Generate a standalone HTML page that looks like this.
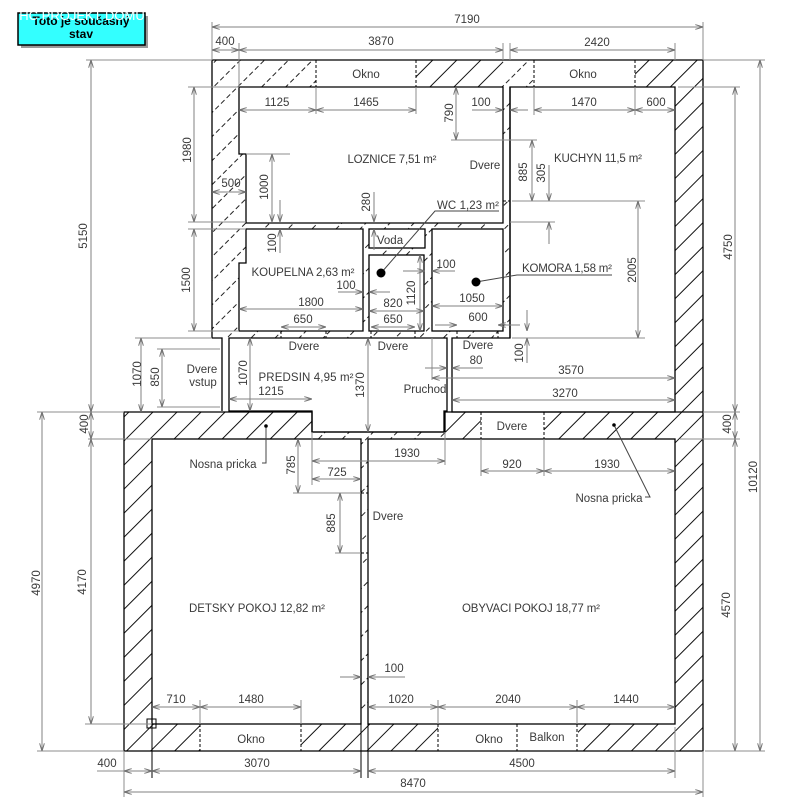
<!DOCTYPE html>
<html><head><meta charset="utf-8"><style>
html,body{margin:0;padding:0;background:#fff;}
svg{display:block;}
text{font-family:"Liberation Sans",Arial,sans-serif;font-size:11.5px;fill:#3a3a3a;}
.t{text-anchor:middle;}
.d line{stroke:#808080;stroke-width:1;marker-start:url(#a);marker-end:url(#a);}
.e line{stroke:#808080;stroke-width:1;marker-end:url(#a);}
.x line{stroke:#8c8c8c;stroke-width:1;}
.k{fill:none;stroke:#000;stroke-width:1.3;}
.r{fill:#fff;stroke:#000;stroke-width:1.3;}
.o line{stroke:#000;stroke-width:1;stroke-dasharray:3 2;}
</style></head><body>
<svg width="798" height="800" viewBox="0 0 798 800" xmlns="http://www.w3.org/2000/svg">
<defs>
<pattern id="hs" patternUnits="userSpaceOnUse" width="17" height="17" patternTransform="rotate(45)">
<line x1="8.5" y1="0" x2="8.5" y2="17" stroke="#111" stroke-width="1"/></pattern>
<pattern id="hd" patternUnits="userSpaceOnUse" width="17" height="16" patternTransform="rotate(45)">
<line x1="8.5" y1="0" x2="8.5" y2="16" stroke="#222" stroke-width="1" stroke-dasharray="5 3"/></pattern>
<marker id="a" viewBox="0 0 8 5" refX="8" refY="2.5" markerWidth="8" markerHeight="5" orient="auto-start-reverse" markerUnits="userSpaceOnUse">
<path d="M0,0 L8,2.5 L0,5" fill="none" stroke="#707070" stroke-width="1"/></marker>
</defs>
<rect width="798" height="800" fill="#fff"/>

<!-- title box -->
<rect x="21" y="16" width="127" height="32" fill="#9a9a9a"/>
<rect x="18" y="13" width="127" height="32" fill="#33ffff" stroke="#000" stroke-width="1.5"/>
<text x="81" y="25" class="t" style="font-weight:bold;font-size:12px;fill:#000">Toto je současný</text>
<text x="81" y="38" class="t" style="font-weight:bold;font-size:12px;fill:#000">stav</text>
<text x="82" y="20" class="t" style="font-size:13px;fill:#fff">HC PROJEKT DOMU</text>

<!-- upper block hatch -->
<rect x="212" y="60" width="491" height="278" fill="url(#hd)"/>
<rect x="416" y="60" width="87" height="27" fill="#fff"/>
<rect x="416" y="60" width="87" height="27" fill="url(#hs)"/>
<rect x="635" y="60" width="68" height="27" fill="#fff"/>
<rect x="635" y="60" width="68" height="27" fill="url(#hs)"/>
<rect x="675" y="60" width="28" height="352" fill="#fff"/>
<rect x="675" y="60" width="28" height="352" fill="url(#hs)"/>
<rect x="316" y="60" width="100" height="27" fill="#fff"/>
<rect x="534" y="60" width="101" height="27" fill="#fff"/>
<rect x="503" y="140" width="7" height="61" fill="#fff"/>

<!-- lower block hatch -->
<polygon points="124,412 312,412 312,432 445,432 445,412 703,412 703,751 124,751" fill="#fff"/>
<polygon points="124,412 312,412 312,432 445,432 445,412 703,412 703,751 124,751" fill="url(#hs)"/>
<rect x="312" y="432" width="133" height="7" fill="#fff"/>
<rect x="312" y="432" width="133" height="7" fill="url(#hd)"/>
<rect x="361" y="439" width="7" height="285" fill="#fff"/>
<rect x="361" y="439" width="7" height="285" fill="url(#hd)"/>
<rect x="481" y="412" width="63" height="27" fill="#fff"/>
<rect x="200" y="724" width="101" height="27" fill="#fff"/>
<rect x="438" y="724" width="140" height="27" fill="#fff"/>

<!-- rooms -->
<polygon class="r" points="239,87 503,87 503,223 246,223 246,154 239,154"/>
<polygon class="r" points="510,87 675,87 675,412 452,412 452,338 510,338"/>
<polygon class="r" points="246,229 363,229 363,331 239,331 239,263 246,263"/>
<rect class="r" x="369" y="229" width="56" height="19"/>
<rect class="r" x="369" y="255" width="55" height="76"/>
<rect class="r" x="432" y="229" width="71" height="102"/>
<polygon class="r" points="229,338 447,338 447,411 444,411 444,432 312,432 312,411 229,411"/>
<rect class="r" x="152" y="439" width="209" height="285"/>
<rect class="r" x="368" y="439" width="307" height="285"/>
<rect x="223" y="339" width="5" height="71" fill="#fff"/>

<!-- outer lines -->
<path class="k" d="M212,338 L212,60 L703,60 L703,412"/>
<path class="k" d="M124,412 H312 V432 H445 V412 H703 V751 H124 Z"/>
<path class="k" d="M212,338 H222 V411"/>
<line x1="510" y1="87" x2="510" y2="338" stroke="#000" stroke-width="1.3"/>
<rect x="147" y="719" width="9" height="9" fill="none" stroke="#000" stroke-width="1"/>

<!-- opening marks -->
<g class="o">
<line x1="316" y1="60" x2="316" y2="87"/><line x1="416" y1="60" x2="416" y2="87"/>
<line x1="534" y1="60" x2="534" y2="87"/><line x1="635" y1="60" x2="635" y2="87"/>
<line x1="503" y1="140" x2="510" y2="140"/><line x1="503" y1="201" x2="510" y2="201"/>
<line x1="281" y1="331" x2="281" y2="338"/><line x1="326" y1="331" x2="326" y2="338"/>
<line x1="371" y1="331" x2="371" y2="338"/><line x1="415" y1="331" x2="415" y2="338"/>
<line x1="457" y1="331" x2="457" y2="338"/><line x1="498" y1="331" x2="498" y2="338"/>
<line x1="481" y1="412" x2="481" y2="439"/><line x1="544" y1="412" x2="544" y2="439"/>
<line x1="361" y1="493" x2="368" y2="493"/><line x1="361" y1="553" x2="368" y2="553"/>
<line x1="200" y1="724" x2="200" y2="751"/><line x1="301" y1="724" x2="301" y2="751"/>
<line x1="438" y1="724" x2="438" y2="751"/><line x1="517" y1="724" x2="517" y2="751"/>
<line x1="577" y1="724" x2="577" y2="751"/>
</g>

<!-- extension lines -->
<g class="x">
<line x1="212" y1="22" x2="212" y2="60"/><line x1="703" y1="22" x2="703" y2="60"/>
<line x1="239" y1="43" x2="239" y2="87"/><line x1="503" y1="43" x2="503" y2="60"/>
<line x1="510" y1="43" x2="510" y2="60"/><line x1="675" y1="43" x2="675" y2="60"/>
<line x1="86" y1="60" x2="212" y2="60"/><line x1="188" y1="87" x2="239" y2="87"/>
<line x1="188" y1="222" x2="246" y2="222"/><line x1="188" y1="229" x2="246" y2="229"/>
<line x1="188" y1="331" x2="239" y2="331"/><line x1="135" y1="338" x2="212" y2="338"/>
<line x1="246" y1="154" x2="290" y2="154"/>
<line x1="451" y1="140" x2="537" y2="140"/>
<line x1="512" y1="201" x2="645" y2="201"/>
<line x1="510" y1="222" x2="555" y2="222"/>
<line x1="512" y1="338" x2="645" y2="338"/>
<line x1="316" y1="87" x2="316" y2="114"/><line x1="416" y1="87" x2="416" y2="114"/>
<line x1="534" y1="87" x2="534" y2="115"/><line x1="635" y1="87" x2="635" y2="115"/>
<line x1="432" y1="338" x2="432" y2="380"/>
<line x1="157" y1="349" x2="220" y2="349"/><line x1="157" y1="407" x2="220" y2="407"/>
<line x1="312" y1="432" x2="312" y2="485"/><line x1="445" y1="432" x2="445" y2="465"/>
<line x1="293" y1="493" x2="361" y2="493"/><line x1="335" y1="553" x2="361" y2="553"/>
<line x1="481" y1="439" x2="481" y2="476"/><line x1="544" y1="439" x2="544" y2="476"/>
<line x1="200" y1="700" x2="200" y2="724"/><line x1="301" y1="700" x2="301" y2="724"/>
<line x1="438" y1="700" x2="438" y2="724"/><line x1="577" y1="700" x2="577" y2="724"/>
<line x1="37" y1="412" x2="124" y2="412"/><line x1="88" y1="439" x2="152" y2="439"/>
<line x1="85" y1="724" x2="152" y2="724"/><line x1="37" y1="751" x2="124" y2="751"/>
<line x1="124" y1="751" x2="124" y2="797"/><line x1="703" y1="751" x2="703" y2="797"/>
<line x1="675" y1="727" x2="675" y2="778"/>
<line x1="703" y1="60" x2="765" y2="60"/><line x1="678" y1="87" x2="740" y2="87"/>
<line x1="703" y1="412" x2="740" y2="412"/><line x1="680" y1="439" x2="740" y2="439"/>
<line x1="705" y1="751" x2="765" y2="751"/>
<line x1="97" y1="771" x2="124" y2="771"/>
</g>
<g stroke="#000" stroke-width="1">
<line x1="152" y1="724" x2="152" y2="778"/><line x1="361" y1="724" x2="361" y2="778"/>
<line x1="368" y1="724" x2="368" y2="778"/>
</g>

<!-- dimension lines, both arrows -->
<g class="d">
<line x1="212" y1="27" x2="703" y2="27"/>
<line x1="212" y1="50" x2="239" y2="50"/><line x1="239" y1="50" x2="503" y2="50"/>
<line x1="510" y1="50" x2="675" y2="50"/>
<line x1="239" y1="110" x2="316" y2="110"/><line x1="316" y1="110" x2="416" y2="110"/>
<line x1="534" y1="110" x2="635" y2="110"/><line x1="635" y1="110" x2="675" y2="110"/>
<line x1="212" y1="192" x2="246" y2="192"/>
<line x1="239" y1="309" x2="363" y2="309"/>
<line x1="281" y1="327" x2="326" y2="327"/>
<line x1="369" y1="311" x2="424" y2="311"/>
<line x1="371" y1="327" x2="415" y2="327"/>
<line x1="432" y1="306" x2="503" y2="306"/>
<line x1="432" y1="378" x2="675" y2="378"/>
<line x1="452" y1="400" x2="675" y2="400"/>
<line x1="229" y1="399" x2="312" y2="399"/>
<line x1="312" y1="461" x2="445" y2="461"/>
<line x1="312" y1="479" x2="361" y2="479"/>
<line x1="481" y1="471" x2="544" y2="471"/><line x1="544" y1="471" x2="675" y2="471"/>
<line x1="152" y1="707" x2="200" y2="707"/><line x1="200" y1="707" x2="301" y2="707"/>
<line x1="368" y1="707" x2="438" y2="707"/><line x1="438" y1="707" x2="577" y2="707"/>
<line x1="577" y1="707" x2="675" y2="707"/>
<line x1="124" y1="771" x2="152" y2="771"/><line x1="152" y1="771" x2="361" y2="771"/>
<line x1="368" y1="771" x2="675" y2="771"/>
<line x1="124" y1="792" x2="703" y2="792"/>
<line x1="91" y1="60" x2="91" y2="412"/><line x1="91" y1="412" x2="91" y2="439"/>
<line x1="91" y1="439" x2="91" y2="724"/>
<line x1="42" y1="412" x2="42" y2="751"/>
<line x1="194" y1="87" x2="194" y2="222"/><line x1="194" y1="229" x2="194" y2="331"/>
<line x1="272" y1="154" x2="272" y2="222"/>
<line x1="456" y1="87" x2="456" y2="140"/>
<line x1="532" y1="140" x2="532" y2="201"/>
<line x1="638" y1="201" x2="638" y2="338"/>
<line x1="420" y1="255" x2="420" y2="331"/>
<line x1="141" y1="338" x2="141" y2="412"/>
<line x1="162" y1="349" x2="162" y2="407"/>
<line x1="250" y1="338" x2="250" y2="411"/>
<line x1="368" y1="338" x2="368" y2="432"/>
<line x1="298" y1="439" x2="298" y2="493"/>
<line x1="340" y1="493" x2="340" y2="553"/>
<line x1="735" y1="87" x2="735" y2="412"/><line x1="735" y1="412" x2="735" y2="439"/>
<line x1="735" y1="439" x2="735" y2="751"/>
<line x1="760" y1="60" x2="760" y2="751"/>
</g>
<!-- single arrow dims -->
<g class="e">
<line x1="472" y1="110" x2="503" y2="110"/><line x1="528" y1="110" x2="510" y2="110"/>
<line x1="338" y1="292" x2="363" y2="292"/><line x1="390" y1="292" x2="369" y2="292"/>
<line x1="403" y1="271" x2="425" y2="271"/><line x1="455" y1="271" x2="432" y2="271"/>
<line x1="435" y1="325" x2="457" y2="325"/><line x1="520" y1="325" x2="498" y2="325"/>
<line x1="425" y1="368" x2="447" y2="368"/><line x1="483" y1="368" x2="452" y2="368"/>
<line x1="340" y1="677" x2="361" y2="677"/><line x1="405" y1="677" x2="368" y2="677"/>
<line x1="280" y1="200" x2="280" y2="222"/><line x1="280" y1="253" x2="280" y2="229"/>
<line x1="374" y1="192" x2="374" y2="222"/><line x1="374" y1="250" x2="374" y2="229"/>
<line x1="549" y1="165" x2="549" y2="201"/><line x1="549" y1="244" x2="549" y2="222"/>
<line x1="527" y1="310" x2="527" y2="331"/><line x1="527" y1="363" x2="527" y2="338"/>
</g>

<!-- leaders -->
<g fill="none" stroke="#444" stroke-width="1">
<polyline points="499,211 435,211 381,273"/>
<polyline points="612,275 517,275 476,282"/>
<polyline points="266,426 266,463 262,463"/>
<polyline points="614,425 650,497 645,497"/>
</g>
<circle cx="381" cy="273" r="4.5" fill="#000"/>
<circle cx="476" cy="282" r="4.5" fill="#000"/>
<circle cx="266" cy="426" r="1.8" fill="#000"/>
<circle cx="614" cy="425" r="1.8" fill="#000"/>

<!-- horizontal texts -->
<g class="t">
<text x="467" y="23">7190</text>
<text x="225" y="45">400</text><text x="381" y="45">3870</text><text x="597" y="46">2420</text>
<text x="366" y="78">Okno</text><text x="583" y="78">Okno</text>
<text x="277" y="106">1125</text><text x="366" y="106">1465</text><text x="481" y="106">100</text>
<text x="584" y="106">1470</text><text x="656" y="106">600</text>
<text x="392" y="163" textLength="89" lengthAdjust="spacing">LOZNICE 7,51 m²</text>
<text x="485" y="169">Dvere</text>
<text x="598" y="162" textLength="88" lengthAdjust="spacing">KUCHYN 11,5 m²</text>
<text x="231" y="187">500</text>
<text x="468" y="209" textLength="62" lengthAdjust="spacing">WC 1,23 m²</text>
<text x="390" y="244">Voda</text>
<text x="303" y="276" textLength="103" lengthAdjust="spacing">KOUPELNA 2,63 m²</text>
<text x="346" y="289">100</text>
<text x="311" y="306">1800</text><text x="393" y="307">820</text>
<text x="303" y="323">650</text><text x="393" y="323">650</text>
<text x="446" y="268">100</text>
<text x="567" y="272" textLength="90" lengthAdjust="spacing">KOMORA 1,58 m²</text>
<text x="472" y="302">1050</text><text x="478" y="321">600</text>
<text x="304" y="350">Dvere</text><text x="393" y="350">Dvere</text><text x="478" y="349">Dvere</text>
<text x="476" y="364">80</text>
<text x="571" y="374">3570</text><text x="565" y="397">3270</text>
<text x="425" y="393">Pruchod</text>
<text x="306" y="381" textLength="95" lengthAdjust="spacing">PREDSIN 4,95 m²</text>
<text x="271" y="395">1215</text>
<text x="202" y="373">Dvere</text><text x="203" y="386">vstup</text>
<text x="512" y="430">Dvere</text>
<text x="407" y="457">1930</text>
<text x="337" y="476">725</text>
<text x="223" y="468">Nosna pricka</text>
<text x="512" y="468">920</text><text x="607" y="468">1930</text>
<text x="609" y="502">Nosna pricka</text>
<text x="388" y="520">Dvere</text>
<text x="257" y="612" textLength="136" lengthAdjust="spacing">DETSKY POKOJ 12,82 m²</text>
<text x="531" y="612" textLength="138" lengthAdjust="spacing">OBYVACI POKOJ 18,77 m²</text>
<text x="394" y="672">100</text>
<text x="176" y="703">710</text><text x="251" y="703">1480</text><text x="401" y="703">1020</text>
<text x="508" y="703">2040</text><text x="626" y="703">1440</text>
<text x="251" y="743">Okno</text><text x="489" y="743">Okno</text><text x="547" y="741">Balkon</text>
<text x="107" y="767">400</text><text x="257" y="767">3070</text><text x="522" y="767">4500</text>
<text x="413" y="787">8470</text>
</g>

<!-- rotated texts -->
<g class="t">
<text transform="translate(83,236) rotate(-90)" dy="4">5150</text>
<text transform="translate(187,150) rotate(-90)" dy="4">1980</text>
<text transform="translate(264,187) rotate(-90)" dy="4">1000</text>
<text transform="translate(272,243) rotate(-90)" dy="4">100</text>
<text transform="translate(366,202) rotate(-90)" dy="4">280</text>
<text transform="translate(449,113) rotate(-90)" dy="4">790</text>
<text transform="translate(523,172) rotate(-90)" dy="4">885</text>
<text transform="translate(541,173) rotate(-90)" dy="4">305</text>
<text transform="translate(632,270) rotate(-90)" dy="4">2005</text>
<text transform="translate(519,353) rotate(-90)" dy="4">100</text>
<text transform="translate(411,293) rotate(-90)" dy="4">1120</text>
<text transform="translate(186,280) rotate(-90)" dy="4">1500</text>
<text transform="translate(137,374) rotate(-90)" dy="4">1070</text>
<text transform="translate(155,377) rotate(-90)" dy="4">850</text>
<text transform="translate(243,373) rotate(-90)" dy="4">1070</text>
<text transform="translate(360,385) rotate(-90)" dy="4">1370</text>
<text transform="translate(291,465) rotate(-90)" dy="4">785</text>
<text transform="translate(331,523) rotate(-90)" dy="4">885</text>
<text transform="translate(728,247) rotate(-90)" dy="4">4750</text>
<text transform="translate(727,424) rotate(-90)" dy="4">400</text>
<text transform="translate(753,477) rotate(-90)" dy="4">10120</text>
<text transform="translate(726,605) rotate(-90)" dy="4">4570</text>
<text transform="translate(36,583) rotate(-90)" dy="4">4970</text>
<text transform="translate(84,424) rotate(-90)" dy="4">400</text>
<text transform="translate(82,582) rotate(-90)" dy="4">4170</text>
</g>
</svg>
</body></html>
